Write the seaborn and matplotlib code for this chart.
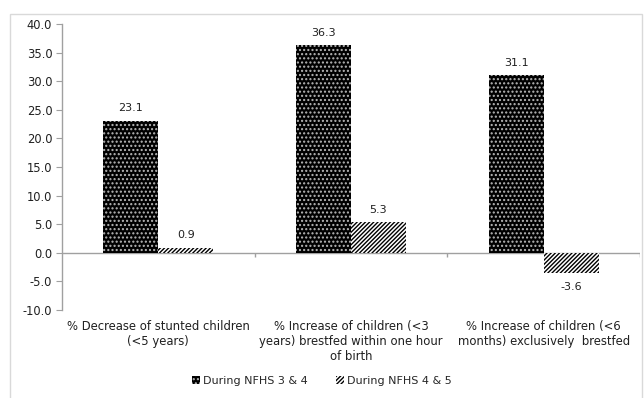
import numpy as np
import pandas as pd
import matplotlib
matplotlib.use('Agg')
import matplotlib.pyplot as plt
from matplotlib.patches import Rectangle, Patch
import seaborn as sns

categories = ['% Decrease of stunted children\n(<5 years)',
              '% Increase of children (<3\nyears) brestfed within one hour\nof birth',
              '% Increase of children (<6\nmonths) exclusively  brestfed']
series = ['During NFHS 3 & 4', 'During NFHS 4 & 5']
nfhs_3_4 = [23.1, 36.3, 31.1]
nfhs_4_5 = [0.9, 5.3, -3.6]

df = pd.DataFrame({
    'category': categories * 2,
    'period': [series[0]] * 3 + [series[1]] * 3,
    'value': nfhs_3_4 + nfhs_4_5,
})

sns.set_style('white')
plt.rcParams['font.family'] = ['DejaVu Sans']
plt.rcParams['hatch.linewidth'] = 1.0

fig = plt.figure(figsize=(6.44, 3.98), dpi=100)
ax = fig.add_axes([62 / 644, 88 / 398, 578 / 644, 286 / 398])

sns.barplot(data=df, x='category', y='value', hue='period', hue_order=series,
            order=categories, width=0.57, ax=ax, legend=False)

# black dotted bars and white bars with dense diagonal hatching
styles = [dict(fc='black', ec='#b8b8b8', hatch='....'),
          dict(fc='white', ec='black', hatch='////////')]
for cont, st in zip(ax.containers, styles):
    for bar in cont:
        bar.set_facecolor(st['fc'])
        bar.set_edgecolor(st['ec'])
        bar.set_hatch(st['hatch'])
        bar.set_linewidth(0)

# value labels
for cont in ax.containers:
    for bar in cont:
        h = bar.get_height()
        x = bar.get_x() + bar.get_width() / 2
        off = 8.8 if h >= 0 else -10
        ax.annotate(f'{h:.1f}', (x, h), xytext=(0, off), textcoords='offset points',
                    ha='center', va='center', fontsize=8, color='#202020')

ax.set_xlim(-0.5, 2.5)
ax.set_ylim(-10, 40)
ax.set_yticks(np.arange(-10, 41, 5))
ax.set_yticklabels([f'{v:.1f}' for v in np.arange(-10, 41, 5)], fontsize=8.3, color='#202020')
ax.tick_params(axis='y', direction='out', length=4, color='#a0a0a0', pad=3, left=True)
ax.tick_params(axis='x', length=0, pad=7, labelsize=8.4, labelcolor='#202020')
for lab in ax.get_xticklabels():
    lab.set_linespacing(1.22)
ax.set_xlabel('')
ax.set_ylabel('')

for s in ['top', 'right', 'bottom']:
    ax.spines[s].set_visible(False)
ax.spines['left'].set_color('#a0a0a0')
ax.spines['left'].set_linewidth(1)
ax.axhline(0, color='#a0a0a0', lw=1, zorder=0.5)
ax.vlines([0.5, 1.5, 2.5], -0.8, 0, color='#a0a0a0', lw=1)

handles = [Patch(facecolor=st['fc'], edgecolor=st['ec'], hatch=st['hatch'], lw=0) for st in styles]
fig.legend(handles, series, loc='center', bbox_to_anchor=(0.5, 17 / 398), ncol=2,
           frameon=False, fontsize=8, handlelength=0.7, handleheight=0.7,
           handletextpad=0.3, columnspacing=2.5)

# light frame around the chart
fig.patches.append(Rectangle((10 / 644, -0.01), 632 / 644, 388 / 398, transform=fig.transFigure,
                             fill=False, ec='#d9d9d9', lw=1))

fig.savefig('out.png', dpi=100)
